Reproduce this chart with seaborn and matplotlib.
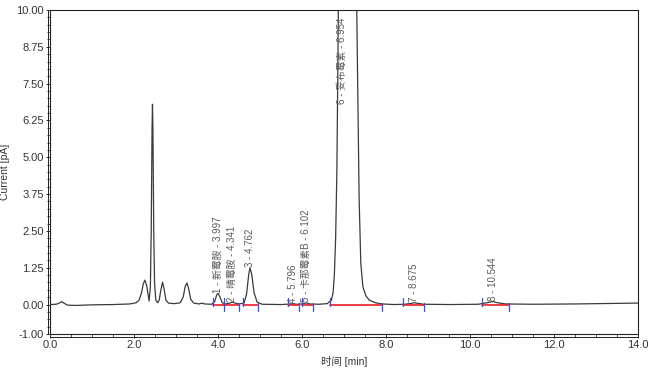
import numpy as np
import pandas as pd
import matplotlib
matplotlib.use("Agg")
import matplotlib.pyplot as plt
from matplotlib.ticker import MultipleLocator, FixedLocator
import seaborn as sns

# ---- data ----
time_min = [0.00, 0.15, 0.22, 0.28, 0.34, 0.42, 0.60, 1.00, 1.50, 1.90, 2.05, 2.12, 2.18, 2.22,
            2.26, 2.30, 2.34, 2.36, 2.39, 2.41, 2.43, 2.44, 2.45, 2.47, 2.49, 2.52, 2.56, 2.60,
            2.64, 2.68, 2.72, 2.76, 2.82, 2.95, 3.10, 3.17, 3.22, 3.26, 3.30, 3.35, 3.42, 3.55,
            3.62, 3.68, 3.85, 3.92, 3.97, 4.00, 4.04, 4.10, 4.18, 4.28, 4.34, 4.40, 4.50, 4.62,
            4.68, 4.73, 4.76, 4.80, 4.86, 4.93, 5.05, 5.50, 5.75, 5.80, 5.86, 6.02, 6.10, 6.18,
            6.40, 6.60, 6.70, 6.74, 6.77, 6.80, 6.83, 6.85, 6.87, 6.95, 7.10, 7.25, 7.30, 7.33,
            7.36, 7.40, 7.45, 7.52, 7.60, 7.75, 7.90, 8.20, 8.45, 8.60, 8.68, 8.76, 8.90, 9.50,
            10.20, 10.40, 10.54, 10.66, 10.85, 11.50, 12.50, 13.50, 14.00]
current_pA = [0.00, 0.01, 0.05, 0.10, 0.04, -0.02, -0.03, -0.01, 0.00, 0.02, 0.06, 0.15, 0.40, 0.70,
              0.83, 0.65, 0.30, 0.12, 0.60, 2.50, 6.00, 6.80, 6.00, 2.50, 0.70, 0.15, 0.06, 0.15,
              0.50, 0.76, 0.50, 0.15, 0.05, 0.03, 0.06, 0.25, 0.62, 0.73, 0.55, 0.18, 0.05, 0.02,
              0.05, 0.02, 0.01, 0.10, 0.33, 0.38, 0.28, 0.06, 0.02, 0.05, 0.08, 0.05, 0.02, 0.05,
              0.35, 1.00, 1.24, 1.05, 0.40, 0.08, 0.01, 0.00, 0.02, 0.03, 0.01, 0.02, 0.06, 0.02,
              0.01, 0.03, 0.15, 0.40, 1.00, 2.20, 4.50, 7.50, 11.0, 14.0, 15.0, 13.0, 10.5, 7.00,
              3.60, 1.40, 0.60, 0.30, 0.15, 0.06, 0.02, 0.00, 0.01, 0.04, 0.06, 0.04, 0.01, 0.00,
              0.01, 0.06, 0.10, 0.06, 0.02, 0.01, 0.02, 0.04, 0.05]

peak_labels = ["1 - 新霉胺 - 3.997", "2 - 晴霉胺 - 4.341", "3 - 4.762", "4 - 5.796",
               "5 - 卡那霉素B - 6.102", "6 - 妥布霉素 - 6.954", "7 - 8.675", "8 - 10.544"]
peak_times = [3.997, 4.341, 4.762, 5.796, 6.102, 6.954, 8.675, 10.544]
peak_heights = [0.38, 0.08, 1.24, 0.03, 0.06, 6.80, 0.06, 0.10]

seg_starts = [3.87, 4.14, 4.59, 5.67, 6.00, 6.67, 8.40, 10.28]
seg_ends = [4.14, 4.50, 4.95, 5.93, 6.26, 7.90, 8.90, 10.93]

y_ticks = [-1.00, 0.00, 1.25, 2.50, 3.75, 5.00, 6.25, 7.50, 8.75, 10.00]
x_ticks = [0.0, 2.0, 4.0, 6.0, 8.0, 10.0, 12.0, 14.0]

df = pd.DataFrame({"time": time_min, "current": current_pA})

sns.set_theme(style="ticks")
plt.rcParams["font.family"] = ["Liberation Sans", "Noto Sans CJK SC", "DejaVu Sans"]
plt.rcParams["axes.unicode_minus"] = False

fig = plt.figure(figsize=(6.5, 3.7), dpi=100)
ax = fig.add_axes([50 / 650, 1 - 334 / 370, 588 / 650, 324 / 370])

sns.lineplot(data=df, x="time", y="current", ax=ax, color="#3a3a3a", linewidth=0.9, sort=False)

# integration baselines and peak start / end markers
for s, e in zip(seg_starts, seg_ends):
    ax.plot([s, e], [0.0, 0.0], color="#f01c24", linewidth=1.2, zorder=3)
    ax.plot([s, s], [-0.05, 0.22], color="#3a50e0", linewidth=0.9, zorder=4)
    ax.plot([e, e], [0.05, -0.22], color="#3a50e0", linewidth=0.9, zorder=4)

for lab, t, h in zip(peak_labels, peak_times, peak_heights):
    ax.text(t, h + 0.02, lab, rotation=90, ha="center", va="bottom",
            fontsize=7, color="#5a5a5a")

ax.set_xlim(0, 14)
ax.set_ylim(-1, 10)
ax.yaxis.set_major_locator(FixedLocator(y_ticks))
ax.set_yticklabels([f"{v:.2f}" for v in y_ticks])
ax.yaxis.set_minor_locator(MultipleLocator(0.25))
ax.xaxis.set_major_locator(FixedLocator(x_ticks))
ax.set_xticklabels([f"{v:.1f}" for v in x_ticks])
ax.xaxis.set_minor_locator(MultipleLocator(0.5))

ax.tick_params(axis="both", which="major", direction="out", length=3, width=0.7,
               labelsize=8, labelcolor="#333333", colors="#333333", pad=1.5)
ax.tick_params(axis="both", which="minor", direction="out", length=2, width=0.6, colors="#333333")

for sp in ax.spines.values():
    sp.set_visible(True)
    sp.set_linewidth(0.8)
    sp.set_color("#222222")

# double line look on left and bottom axes
ax.plot([-0.004, -0.004], [0, 1], transform=ax.transAxes, color="#222222", lw=0.7, clip_on=False)
ax.plot([0, 1], [-0.008, -0.008], transform=ax.transAxes, color="#222222", lw=0.7, clip_on=False)

ax.set_xlabel("时间 [min]", fontsize=7.5, color="#333333", labelpad=4)
ax.set_ylabel("Current [pA]", fontsize=7.5, color="#333333")
ax.yaxis.set_label_coords(-0.068, 0.5)

fig.savefig("out.png", dpi=100)
